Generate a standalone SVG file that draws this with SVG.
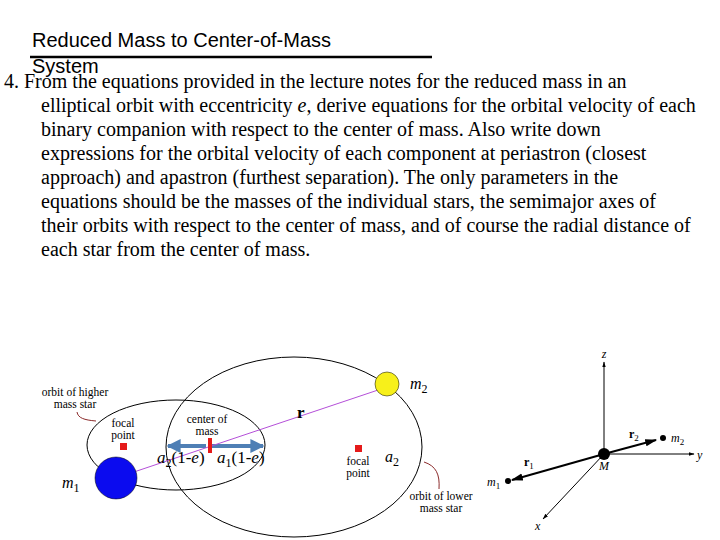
<svg xmlns="http://www.w3.org/2000/svg" width="720" height="540" viewBox="0 0 720 540">
<style>
.t{font-family:"Liberation Serif",serif;font-size:20px;fill:#000}
.s{font-family:"Liberation Serif",serif;font-size:11.5px;fill:#000}
.i{font-family:"Liberation Serif",serif;font-style:italic;fill:#000}
.k{fill:none;stroke:#000;stroke-width:1}
</style>
<defs>
<marker id="bl" viewBox="0 0 10 10" refX="9" refY="5" markerWidth="3.5" markerHeight="3.5" orient="auto-start-reverse"><path d="M0,0L10,5L0,10z" fill="#4f7fb5"/></marker>
<marker id="ka" viewBox="0 0 10 10" refX="9" refY="5" markerWidth="6" markerHeight="6" orient="auto"><path d="M0,2L10,5L0,8z" fill="#000"/></marker>
</defs>
<rect width="720" height="540" fill="#fff"/>
<g id="title">
<text x="32" y="47" font-family="Liberation Sans,sans-serif" font-size="20">Reduced Mass to Center-of-Mass</text>
<text x="32" y="73" font-family="Liberation Sans,sans-serif" font-size="20">System</text>
<line x1="30" y1="57" x2="432" y2="57" stroke="#000" stroke-width="2.5"/>
</g>
<g id="body" class="t">
<text x="4" y="88">4. From the equations provided in the lecture notes for the reduced mass in an</text>
<text x="41" y="112">elliptical orbit with eccentricity <tspan font-style="italic">e</tspan>, derive equations for the orbital velocity of each</text>
<text x="41" y="136">binary companion with respect to the center of mass.  Also write down</text>
<text x="41" y="160">expressions for the orbital velocity of each component at periastron (closest</text>
<text x="41" y="184">approach) and apastron (furthest separation).  The only parameters in the</text>
<text x="41" y="208">equations should be the masses of the individual stars, the semimajor axes of</text>
<text x="41" y="232">their orbits with respect to the center of mass, and of course the radial distance of</text>
<text x="41" y="256">each star from the center of mass.</text>
</g>
<g id="orbits">
<ellipse cx="176" cy="445" rx="89" ry="45" class="k"/>
<ellipse cx="294" cy="447" rx="128" ry="90" class="k"/>
</g>
<g id="connectors">
<line x1="206" y1="446" x2="168" y2="446" stroke="#4f7fb5" stroke-width="4" marker-end="url(#bl)"/>
<line x1="212" y1="446" x2="263" y2="446" stroke="#4f7fb5" stroke-width="4" marker-end="url(#bl)"/>
<line x1="116" y1="478" x2="390" y2="386" stroke="#b44fd8" stroke-width="1"/>
<path d="M379,384L390,386L385,393" fill="none" stroke="#b44fd8" stroke-width="2"/>
<path d="M77,412C78,418 84,420 96,421" fill="none" stroke="#8b2a2a"/>
<path d="M424,462C436,466 440,474 439,489" fill="none" stroke="#8b2a2a"/>
</g>
<g id="m1"><circle cx="116" cy="478" r="21" fill="#0b0bef" stroke="#000" stroke-width="0.5"/><text x="62" y="488" class="i" font-size="16">m<tspan font-style="normal" font-size="12" dy="4">1</tspan></text></g>
<g id="m2"><circle cx="387" cy="384" r="12" fill="#f7f01a" stroke="#000" stroke-width="0.5"/><text x="410" y="389" class="i" font-size="16">m<tspan font-style="normal" font-size="12" dy="4">2</tspan></text></g>
<g id="com"><rect x="208" y="438" width="4" height="15" fill="#e51a1a"/><text x="207" y="423" class="s" text-anchor="middle">center of</text><text x="207" y="435" class="s" text-anchor="middle">mass</text></g>
<g id="focal1"><rect x="120" y="443" width="7" height="7" fill="#e51a1a"/><text x="123" y="427" class="s" text-anchor="middle">focal</text><text x="123" y="439" class="s" text-anchor="middle">point</text></g>
<g id="focal2"><rect x="355" y="445" width="7" height="7" fill="#e51a1a"/><text x="358" y="465" class="s" text-anchor="middle">focal</text><text x="358" y="477" class="s" text-anchor="middle">point</text></g>
<g id="labels">
<text x="75" y="396" class="s" text-anchor="middle">orbit of higher</text>
<text x="75" y="408" class="s" text-anchor="middle">mass star</text>
<text x="441" y="500" class="s" text-anchor="middle">orbit of lower</text>
<text x="441" y="512" class="s" text-anchor="middle">mass star</text>
<text x="157" y="463" font-family="Liberation Serif,serif" font-size="17"><tspan font-style="italic">a</tspan><tspan font-size="12" dy="4">2</tspan><tspan dy="-4">(1-</tspan><tspan font-style="italic">e</tspan>)</text>
<text x="217" y="463" font-family="Liberation Serif,serif" font-size="17"><tspan font-style="italic">a</tspan><tspan font-size="12" dy="4">1</tspan><tspan dy="-4">(1-</tspan><tspan font-style="italic">e</tspan>)</text>
<text x="385" y="462" class="i" font-size="16">a<tspan font-style="normal" font-size="12" dy="4">2</tspan></text>
<text x="297" y="418" font-family="Liberation Serif,serif" font-size="17" font-weight="bold">r</text>
</g>
<g id="frame">
<line x1="604" y1="454" x2="604" y2="362" stroke="#000" stroke-width="1" marker-end="url(#ka)"/>
<line x1="604" y1="454" x2="694" y2="454" stroke="#000" stroke-width="1" marker-end="url(#ka)"/>
<line x1="604" y1="454" x2="543" y2="519" stroke="#000" stroke-width="1" marker-end="url(#ka)"/>
<line x1="604" y1="454" x2="512" y2="480" stroke="#000" stroke-width="2" marker-end="url(#ka)"/>
<line x1="604" y1="454" x2="656" y2="440" stroke="#000" stroke-width="2" marker-end="url(#ka)"/>
<circle cx="604" cy="454" r="6" fill="#000"/>
<circle cx="508" cy="481" r="3" fill="#000"/>
<circle cx="663" cy="438" r="3" fill="#000"/>
<text x="604" y="358" class="i" font-size="12" text-anchor="middle">z</text>
<text x="697" y="459" class="i" font-size="12">y</text>
<text x="535" y="530" class="i" font-size="12">x</text>
<text x="599" y="470" class="i" font-size="12">M</text>
<text x="487" y="486" class="i" font-size="12">m<tspan font-style="normal" font-size="9" dy="3">1</tspan></text>
<text x="671" y="442" class="i" font-size="12">m<tspan font-style="normal" font-size="9" dy="3">2</tspan></text>
<text x="524" y="466" font-family="Liberation Serif,serif" font-size="12" font-weight="bold">r<tspan font-weight="normal" font-size="9" dy="3">1</tspan></text>
<text x="629" y="438" font-family="Liberation Serif,serif" font-size="12" font-weight="bold">r<tspan font-weight="normal" font-size="9" dy="3">2</tspan></text>
</g>
</svg>
